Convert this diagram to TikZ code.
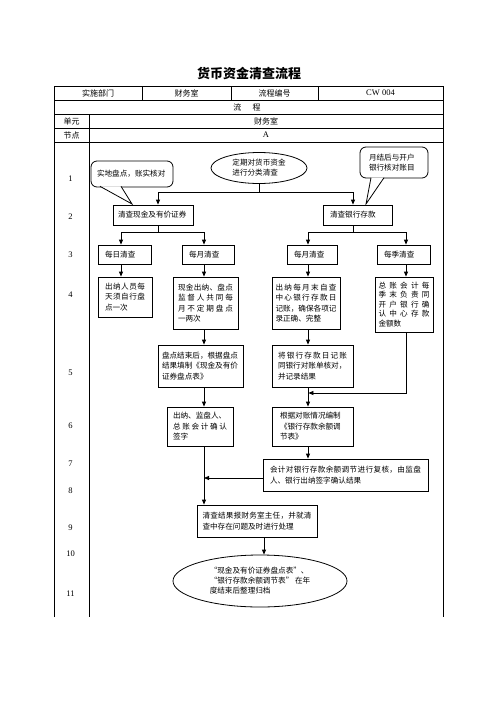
\documentclass[tikz,border=0pt]{standalone}
\usepackage{fontspec}
\setmainfont{Liberation Serif}
\newfontfamily\cjk{Noto Sans CJK SC}
\usetikzlibrary{arrows.meta,shapes.geometric}
\makeatletter
\newcommand\spr[1]{\noindent\hbox to \linewidth{\@tfor\spr@c:=#1\do{\spr@c\hfil}\unskip}}
\makeatother
\begin{document}
\begin{tikzpicture}[x=1pt,y=-1pt,
  tline/.style={line width=0.8pt},
  lk/.style={line width=0.8pt},
  box/.style={draw, line width=0.8pt, rectangle, inner sep=0pt, align=left, font=\cjk\fontsize{7.6}{10.5}\selectfont},
  arr/.style={line width=0.8pt,-{Triangle[length=5pt,width=4pt]}},
  cell/.style={inner sep=0pt, font=\cjk\fontsize{8}{10}\selectfont},
  latcell/.style={inner sep=0pt, font=\fontsize{8.5}{10}\selectfont},
  rownum/.style={inner sep=0pt, font=\fontsize{8.5}{10}\selectfont},
  oval/.style={draw, ellipse, line width=0.8pt, inner sep=0pt, align=left, font=\cjk\fontsize{7.6}{10}\selectfont},
  callout/.style={draw, rounded corners=6pt, line width=0.8pt, inner sep=0pt, align=left, font=\cjk\fontsize{7.6}{10}\selectfont}
]
\useasboundingbox (0,0) rectangle (496,702);
\fill[white] (0,0) rectangle (496,702);

% title
\node[inner sep=0pt, font=\cjk\bfseries\fontsize{13}{13}\selectfont] (title) at (249,73) {货币资金清查流程};

% table
\draw[tline] (54,617) -- (54,86) -- (443,86) -- (443,617);
\draw[tline] (54,100) -- (443,100);
\draw[tline] (54,114) -- (443,114);
\draw[tline] (54,128) -- (443,128);
\draw[tline] (54,142) -- (443,142);
\draw[tline] (142,86) -- (142,100);
\draw[tline] (231,86) -- (231,100);
\draw[tline] (318,86) -- (318,100);
\draw[tline] (89,114) -- (89,617);

\node[cell] (h1) at (98,93) {实施部门};
\node[cell] (h2) at (186.5,93) {财务室};
\node[cell] (h3) at (274.5,93) {流程编号};
\node[latcell] (h4) at (380.5,93) {CW 004};
\node[cell] (h5) at (247,107) {流\hspace{1.4em}程};
\node[cell] (u1) at (71.5,121) {单元};
\node[cell] (u2) at (266,121) {财务室};
\node[cell] (n1) at (71.5,135) {节点};
\node[latcell] (n2) at (266,135) {A};

% row numbers
\node[rownum] (r1) at (70.5,179) {1};
\node[rownum] (r2) at (70.5,217) {2};
\node[rownum] (r3) at (70.5,255) {3};
\node[rownum] (r4) at (70.5,295) {4};
\node[rownum] (r5) at (70.5,373) {5};
\node[rownum] (r6) at (70.5,426) {6};
\node[rownum] (r7) at (70.5,464) {7};
\node[rownum] (r8) at (70.5,491) {8};
\node[rownum] (r9) at (70.5,528) {9};
\node[rownum] (r10) at (70.5,554) {10};
\node[rownum] (r11) at (70.5,594) {11};

% columns
\coordinate (cA) at (121,0);
\coordinate (cB) at (204,0);
\coordinate (cC) at (308,0);
\coordinate (cD) at (406,0);
\coordinate (cE) at (264,0);

% row 1
\node[oval, minimum width=96pt, minimum height=31pt] (e1) at (259,168) {定期对货币资金\\进行分类清查};
\node[callout, minimum width=82pt, minimum height=26pt, text width=70pt] (cL) at (132,174) {实地盘点，账实核对};
\filldraw[lk, fill=white] (100,186.3) -- (132,204) -- (121,186.3);
\node[callout, minimum width=68pt, minimum height=31pt, text width=50pt] (cR) at (394,162.5) {月结后与开户\\银行核对账目};
\filldraw[lk, fill=white] (371,177.7) -- (366,204) -- (384,177.7);

% row 2
\node[box, minimum width=80pt, minimum height=20pt, text width=70pt] (b2L) at (153,215) {清查现金及有价证券};
\node[box, minimum width=69pt, minimum height=20pt, text width=55pt] (b2R) at (357.5,215) {清查银行存款};

% row 3
\node[box, minimum width=53pt, minimum height=19pt, text width=39pt] (b3a) at (124.5,254.5) {每日清查};
\node[box, minimum width=52pt, minimum height=19pt, text width=38pt] (b3b) at (208,254.5) {每月清查};
\node[box, minimum width=50pt, minimum height=19pt, text width=36pt] (b3c) at (312,254.5) {每月清查};
\node[box, minimum width=53pt, minimum height=19pt, text width=39pt] (b3d) at (403.5,254.5) {每季清查};

% row 4
\node[box, minimum width=54pt, minimum height=40pt, text width=40pt] (b4a) at (125,297) {\spr{出纳人员每}\\\spr{天须自行盘}\\点一次};
\node[box, minimum width=65pt, minimum height=52pt, text width=55pt] (b4b) at (205.5,303) {\spr{现金出纳、盘点}\\\spr{监督人共同每}\\\spr{月不定期盘点}\\一两次};
\node[box, minimum width=68pt, minimum height=52pt, text width=61pt] (b4c) at (306,303) {\spr{出纳每月末自查}\\\spr{中心银行存款日}\\\spr{记账，确保各项记}\\录正确、完整};
\node[box, minimum width=58pt, minimum height=55pt, text width=51pt, font=\cjk\fontsize{7.6}{9.5}\selectfont] (b4d) at (404,304.5) {\spr{总账会计每}\\\spr{季末负责同}\\\spr{开户银行确}\\\spr{认中心存款}\\金额数};

% row 5
\node[box, minimum width=85pt, minimum height=42pt, text width=77pt] (b5L) at (200.5,366) {盘点结束后，根据盘点\\结果填制《现金及有价\\证券盘点表》};
\node[box, minimum width=81pt, minimum height=42pt, text width=69pt] (b5R) at (312.5,366) {\spr{将银行存款日记账}\\同银行对账单核对，\\并记录结果};

% row 6
\node[box, minimum width=66pt, minimum height=39pt, text width=54pt] (b6L) at (200,426.5) {出纳、监盘人、\\\spr{总账会计确认}\\签字};
\node[box, minimum width=81pt, minimum height=39pt, text width=65pt] (b6R) at (312.5,426.5) {根据对账情况编制\\《银行存款余额调\\节表》};

% row 7
\node[box, minimum width=165pt, minimum height=32pt, text width=151pt] (b7) at (345.5,475) {\spr{会计对银行存款余额调节进行复核，由监盘}\\人、银行出纳签字确认结果};

% row 9
\node[box, minimum width=120pt, minimum height=32pt, text width=109pt] (b9) at (257,521) {\spr{清查结果报财务室主任，并就清}\\查中存在问题及时进行处理};

% row 11
\node[oval, minimum width=174pt, minimum height=52pt] (e2) at (260,581) {“现金及有价证券盘点表”、\\“银行存款余额调节表” 在年\\度结束后整理归档};

% connectors
\draw[lk] (e1.south) -- ++(0,8.5) coordinate (j1);
\draw[arr] (j1) -| ([xshift=5pt]b2L.north);
\draw[arr] (j1) -| ([xshift=-4.5pt]b2R.north);

\draw[lk] ([xshift=5pt]b2L.south) -- ++(0,7) coordinate (j2);
\draw[arr] (j2) -| (b3a.north -| cA);
\draw[arr] (j2) -| (b3b.north -| cB);
\draw[lk] ([xshift=-4.5pt]b2R.south) -- ++(0,7) coordinate (j3);
\draw[arr] (j3) -| (b3c.north -| cC);
\draw[arr] (j3) -| (b3d.north -| cD);

\draw[arr] (b3a.south -| cA) -- (b4a.north -| cA);
\draw[arr] (b3b.south -| cB) -- (b4b.north -| cB);
\draw[arr] (b3c.south -| cC) -- (b4c.north -| cC);
\draw[arr] (b3d.south -| cD) -- (b4d.north -| cD);

\draw[arr] (b4b.south -| cB) -- (b5L.north -| cB);
\draw[arr] (b4c.south -| cC) -- (b5R.north -| cC);
\coordinate (j4) at (308.4,393);
\draw[arr] (b4d.south -| cD) |- (j4);

\draw[arr] (b5L.south -| cB) -- (b6L.north -| cB);
\draw[arr] (b5R.south -| cC) -- (b6R.north -| cC);
\draw[arr] (b6R.south -| cC) -- (b7.north -| cC);
\coordinate (k7) at ([yshift=-3pt]b7.west);
\draw[arr] (k7) -- (k7 -| cB);
\draw[arr] (b6L.south -| cB) -- (b9.north -| cB);
\draw[arr] (b9.south -| cE) -- (e2.north -| cE);
\end{tikzpicture}
\end{document}
